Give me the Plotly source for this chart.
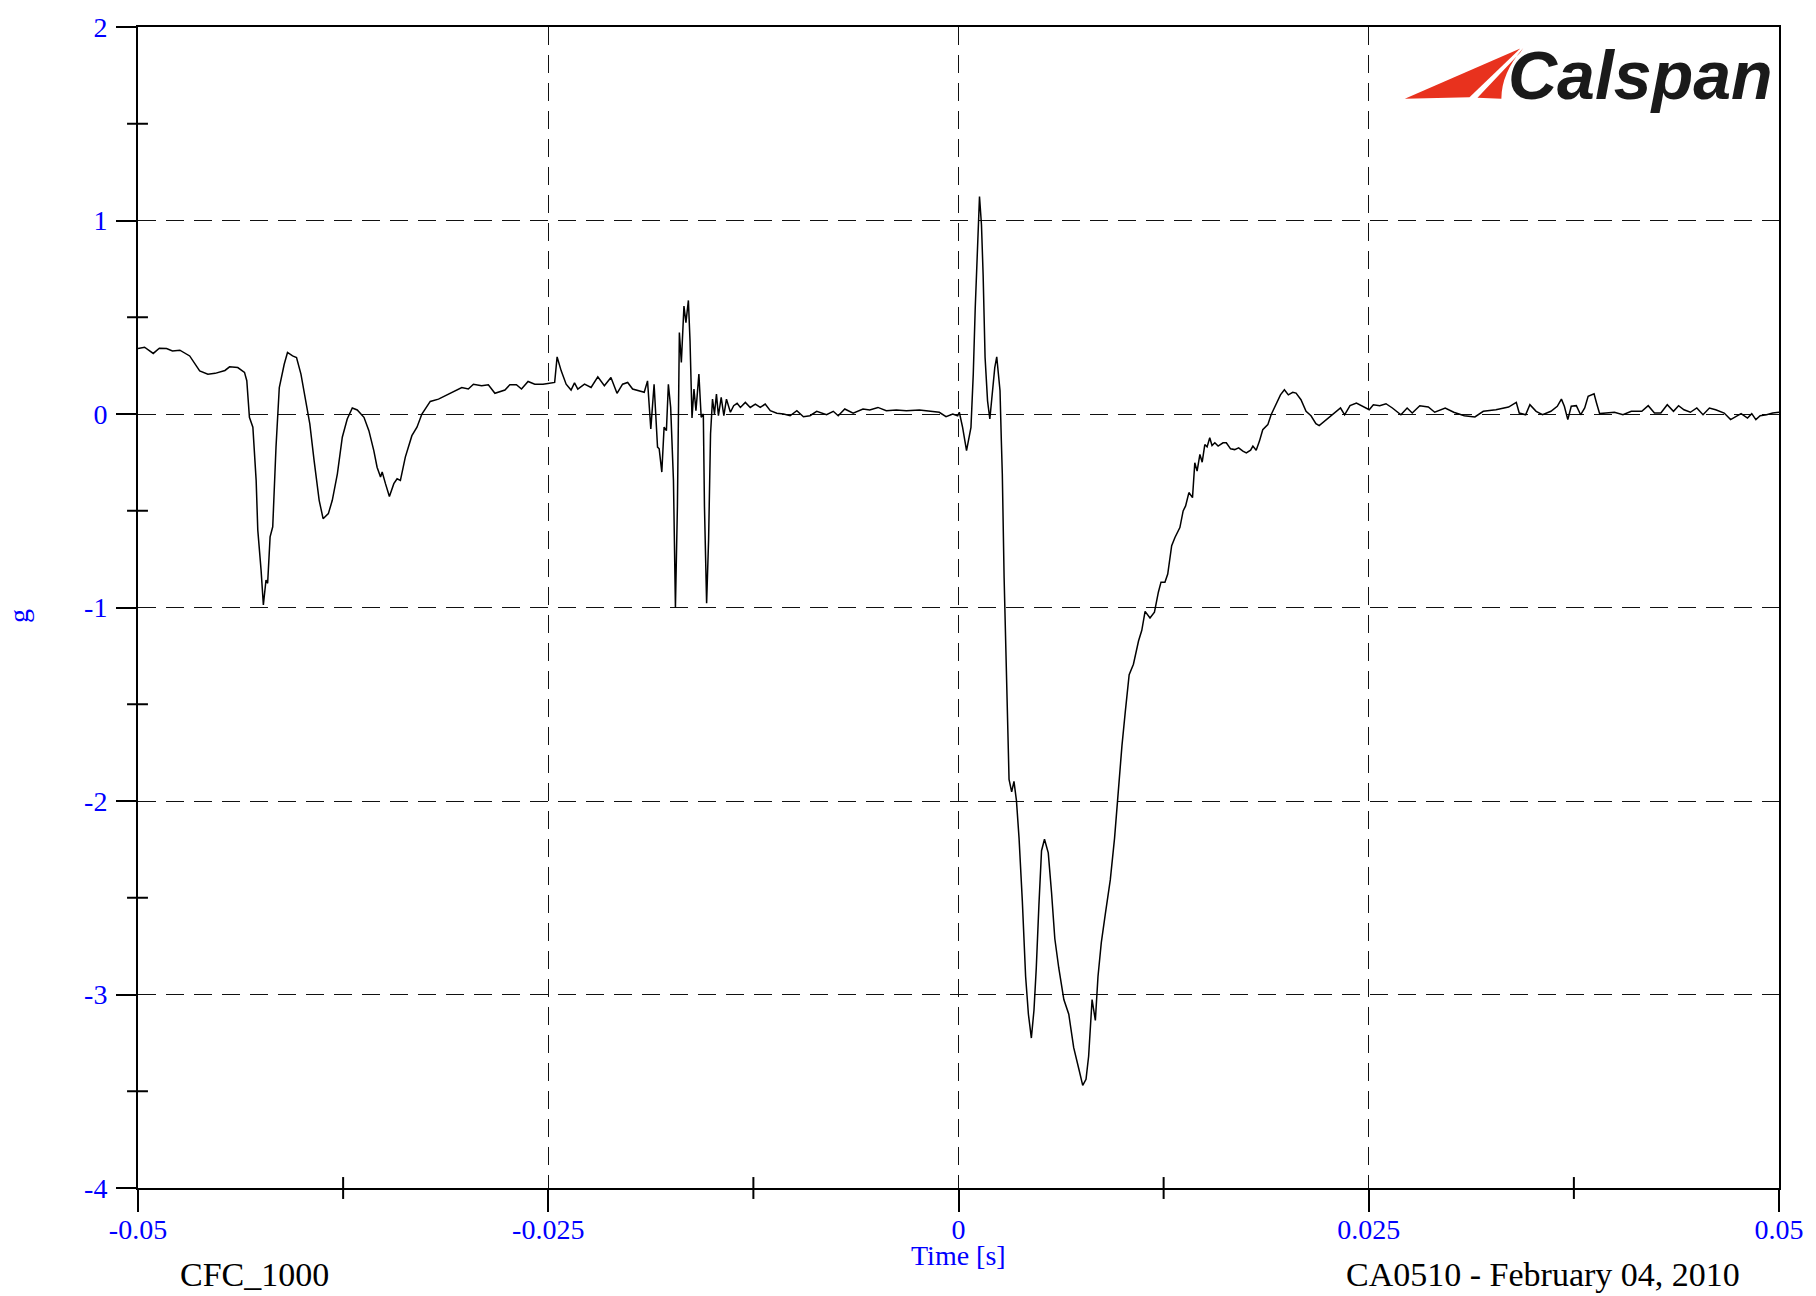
import plotly.graph_objects as go

# ---------------- data (time in ms, acceleration in g) ----------------
time_ms = [
    -50.00, -49.60, -49.07, -48.70, -48.26, -47.90, -47.45, -46.85, -46.24, -45.74,
    -45.30, -45.03, -44.70, -44.42, -43.92, -43.51, -43.37, -43.21, -43.00, -42.80,
    -42.70, -42.50, -42.36, -42.20, -42.10, -41.95, -41.79, -41.59, -41.39, -41.09,
    -40.89, -40.58, -40.34, -40.07, -39.77, -39.53, -39.27, -38.96, -38.72, -38.40,
    -38.16, -37.85, -37.55, -37.25, -36.94, -36.64, -36.23, -35.93, -35.63, -35.43,
    -35.22, -35.12, -34.92, -34.68, -34.41, -34.21, -34.01, -33.71, -33.31, -33.00,
    -32.70, -32.19, -31.69, -31.08, -30.88, -30.27, -29.87, -29.56, -29.06, -28.65,
    -28.25, -27.64, -27.34, -26.94, -26.63, -26.23, -25.82, -25.32, -25.02, -24.61,
    -24.46, -24.21, -23.91, -23.61, -23.40, -23.20, -22.79, -22.39, -21.98, -21.58,
    -21.18, -20.81, -20.47, -20.16, -19.86, -19.46, -19.15, -18.95, -18.75, -18.55,
    -18.34, -18.24, -18.08, -17.94, -17.80, -17.68, -17.54, -17.37, -17.25, -17.13,
    -17.01, -16.89, -16.73, -16.61, -16.46, -16.36, -16.24, -16.12, -16.00, -15.82,
    -15.68, -15.55, -15.48, -15.35, -15.23, -15.11, -14.99, -14.87, -14.75, -14.63,
    -14.46, -14.30, -14.14, -13.90, -13.70, -13.49, -13.29, -12.99, -12.69, -12.38,
    -12.08, -11.78, -11.47, -11.07, -10.66, -10.26, -9.85, -9.45, -9.05, -8.64,
    -8.04, -7.63, -7.33, -6.93, -6.42, -5.82, -5.41, -4.91, -4.40, -3.79,
    -3.18, -2.38, -1.77, -1.17, -0.76, -0.35, -0.05, 0.05, 0.25, 0.49,
    0.76, 0.90, 1.02, 1.16, 1.28, 1.40, 1.50, 1.62, 1.77, 1.91,
    2.07, 2.21, 2.33, 2.43, 2.53, 2.61, 2.67, 2.78, 2.92, 3.08,
    3.24, 3.38, 3.53, 3.69, 3.89, 4.09, 4.26, 4.44, 4.60, 4.74,
    4.90, 5.06, 5.24, 5.47, 5.67, 5.87, 6.11, 6.42, 6.72, 7.02,
    7.33, 7.57, 7.77, 7.93, 8.14, 8.34, 8.50, 8.70, 8.95, 9.25,
    9.51, 9.75, 9.96, 10.16, 10.40, 10.66, 10.97, 11.17, 11.37, 11.67,
    11.94, 12.18, 12.34, 12.58, 12.75, 12.99, 13.19, 13.49, 13.69, 13.84,
    14.04, 14.26, 14.40, 14.54, 14.71, 14.85, 15.01, 15.15, 15.31, 15.45,
    15.62, 15.82, 16.12, 16.32, 16.58, 16.83, 17.07, 17.33, 17.54, 17.80,
    17.94, 18.14, 18.34, 18.54, 18.85, 19.05, 19.36, 19.62, 19.86, 20.10,
    20.37, 20.57, 20.87, 21.18, 21.48, 21.78, 21.98, 22.29, 22.71, 23.09,
    23.28, 23.53, 23.86, 24.25, 24.64, 25.03, 25.28, 25.67, 26.05, 26.44,
    26.96, 27.34, 27.65, 28.11, 28.63, 29.02, 29.66, 30.18, 30.82, 31.47,
    31.98, 32.75, 33.52, 33.99, 34.17, 34.56, 34.82, 35.20, 35.59, 36.10,
    36.49, 36.74, 36.92, 37.13, 37.34, 37.65, 37.91, 38.16, 38.37, 38.73,
    38.88, 39.07, 39.45, 39.97, 40.49, 41.00, 41.64, 42.03, 42.41, 42.80,
    43.19, 43.57, 43.88, 44.21, 44.60, 44.99, 45.37, 45.76, 46.14, 46.66,
    47.05, 47.43, 47.69, 48.08, 48.34, 48.59, 48.85, 49.24, 49.62, 50.00,
]

accel_g = [
    0.338, 0.345, 0.313, 0.340, 0.338, 0.326, 0.330, 0.300, 0.223, 0.206,
    0.210, 0.215, 0.225, 0.244, 0.240, 0.215, 0.172, -0.017, -0.068, -0.343,
    -0.600, -0.807, -0.987, -0.858, -0.875, -0.635, -0.583, -0.171, 0.137, 0.257,
    0.318, 0.300, 0.292, 0.206, 0.068, -0.051, -0.240, -0.446, -0.541, -0.515,
    -0.446, -0.309, -0.120, -0.026, 0.031, 0.021, -0.017, -0.086, -0.189, -0.275,
    -0.326, -0.300, -0.360, -0.426, -0.360, -0.335, -0.343, -0.223, -0.112, -0.068,
    0.000, 0.065, 0.077, 0.103, 0.112, 0.137, 0.129, 0.154, 0.146, 0.151,
    0.107, 0.124, 0.151, 0.151, 0.129, 0.168, 0.154, 0.154, 0.158, 0.163,
    0.295, 0.223, 0.154, 0.124, 0.161, 0.129, 0.154, 0.137, 0.192, 0.146,
    0.189, 0.107, 0.154, 0.163, 0.129, 0.120, 0.112, 0.171, -0.077, 0.154,
    -0.171, -0.180, -0.300, -0.068, -0.086, 0.154, 0.034, -0.343, -1.000, -0.480,
    0.421, 0.266, 0.558, 0.472, 0.587, 0.377, -0.021, 0.129, 0.017, 0.206,
    -0.017, 0.000, -0.480, -0.978, -0.652, -0.103, 0.077, 0.000, 0.103, -0.009,
    0.086, -0.009, 0.077, 0.009, 0.043, 0.055, 0.034, 0.060, 0.034, 0.051,
    0.034, 0.051, 0.017, 0.004, 0.000, -0.009, 0.017, -0.014, -0.009, 0.014,
    -0.004, 0.014, -0.009, 0.026, 0.004, 0.026, 0.021, 0.034, 0.017, 0.021,
    0.017, 0.021, 0.014, 0.009, -0.014, 0.000, -0.009, 0.009, -0.069, -0.189,
    -0.069, 0.206, 0.549, 0.892, 1.124, 0.978, 0.721, 0.292, 0.068, -0.026,
    0.103, 0.240, 0.295, 0.223, 0.120, -0.137, -0.309, -0.848, -1.282, -1.888,
    -1.953, -1.899, -1.997, -2.192, -2.517, -2.907, -3.102, -3.225, -3.080, -2.863,
    -2.538, -2.257, -2.198, -2.268, -2.473, -2.712, -2.863, -3.026, -3.102, -3.275,
    -3.384, -3.470, -3.438, -3.319, -3.026, -3.134, -2.907, -2.733, -2.582, -2.408,
    -2.192, -1.910, -1.715, -1.542, -1.347, -1.293, -1.173, -1.118, -1.020, -1.054,
    -1.024, -0.921, -0.869, -0.869, -0.827, -0.681, -0.638, -0.587, -0.501, -0.475,
    -0.406, -0.432, -0.252, -0.295, -0.209, -0.249, -0.158, -0.170, -0.123, -0.163,
    -0.149, -0.166, -0.149, -0.149, -0.180, -0.184, -0.175, -0.192, -0.201, -0.187,
    -0.166, -0.187, -0.140, -0.081, -0.055, -0.004, 0.048, 0.099, 0.125, 0.099,
    0.112, 0.108, 0.074, 0.014, -0.009, -0.050, -0.060, -0.038, -0.012, 0.014,
    0.031, -0.004, 0.043, 0.057, 0.040, 0.022, 0.048, 0.043, 0.053, 0.031,
    -0.004, 0.031, 0.005, 0.043, 0.036, 0.009, 0.031, 0.009, -0.009, -0.015,
    0.014, 0.022, 0.036, 0.060, 0.005, -0.004, 0.048, 0.014, -0.004, 0.014,
    0.040, 0.077, 0.040, -0.029, 0.040, 0.043, -0.004, 0.031, 0.091, 0.104,
    0.057, 0.002, 0.005, 0.009, -0.004, 0.014, 0.014, 0.043, 0.005, 0.005,
    0.048, 0.014, 0.043, 0.022, 0.009, 0.031, -0.004, 0.031, 0.022, 0.005,
    -0.029, -0.012, 0.002, -0.021, 0.002, -0.029, -0.009, -0.004, 0.005, 0.009,
]

x_major_ticks = [-0.05, -0.025, 0, 0.025, 0.05]
x_tick_labels = ["-0.05", "-0.025", "0", "0.025", "0.05"]
x_minor_ticks = [-0.0375, -0.0125, 0.0125, 0.0375]
y_major_ticks = [-4, -3, -2, -1, 0, 1, 2]
y_tick_labels = ["-4", "-3", "-2", "-1", "0", "1", "2"]
y_minor_ticks = [-3.5, -2.5, -1.5, -0.5, 0.5, 1.5]

x_title = "Time [s]"
y_title = "g"
footer_left = "CFC_1000"
footer_right = "CA0510 - February 04, 2010"
logo_text = "Calspan"

time_s = [t / 1000.0 for t in time_ms]

# ---------------- layout geometry (pixels) ----------------
W_FIG, H_FIG = 1816, 1296
L, R, T, B = 138, 1787, 22, 1188
PW, PH = R - L, B - T


def px(xp):
    return (xp - L) / PW


def py(yp):
    return (B - yp) / PH


SERIF = "Liberation Serif, Times New Roman, serif"
BLUE = "#0000ff"
RED = "#e8321e"

fig = go.Figure()
fig.add_trace(go.Scatter(
    x=time_s, y=accel_g, mode="lines",
    line=dict(color="black", width=1.5),
    hoverinfo="skip", showlegend=False,
))

shapes = []
# minor ticks crossing the axes
for v in y_minor_ticks:
    shapes.append(dict(type="line", xref="paper", yref="y",
                       x0=-11 / PW, x1=10 / PW, y0=v, y1=v,
                       line=dict(color="black", width=2)))
for v in x_minor_ticks:
    shapes.append(dict(type="line", xref="x", yref="paper",
                       x0=v, x1=v, y0=-11 / PH, y1=11 / PH,
                       line=dict(color="black", width=2)))


# Calspan logo swoosh (decoration)
def path(points, close=True):
    s = "M " + " L ".join(f"{px(a):.5f},{py(b):.5f}" for a, b in points)
    return s + (" Z" if close else "")


shapes.append(dict(type="path", xref="paper", yref="paper",
                   path=path([(1411, 94), (1527, 43.5), (1476, 92.5)]),
                   fillcolor=RED, line=dict(width=0)))
A = (1530, 43); C = (1508, 68); Bp = (1508, 94)
shapes.append(dict(type="path", xref="paper", yref="paper",
                   path=(f"M {px(1484):.5f},{py(93):.5f} L {px(1527):.5f},{py(47.5):.5f} "
                         f"L {px(A[0]):.5f},{py(A[1]):.5f} "
                         f"Q {px(C[0]):.5f},{py(C[1]):.5f} {px(Bp[0]):.5f},{py(Bp[1]):.5f} Z"),
                   fillcolor=RED, line=dict(width=0)))

annotations = [
    dict(text=y_title, xref="paper", yref="paper", x=px(18), y=py(614),
         textangle=-90, showarrow=False, xanchor="center", yanchor="middle",
         font=dict(family=SERIF, size=28, color=BLUE)),
    dict(text=x_title, xref="paper", yref="paper", x=px(963), y=py(1256),
         showarrow=False, xanchor="center", yanchor="middle",
         font=dict(family=SERIF, size=28, color=BLUE)),
    dict(text=footer_left, xref="paper", yref="paper", x=px(255), y=py(1275),
         showarrow=False, xanchor="center", yanchor="middle",
         font=dict(family=SERIF, size=34, color="black")),
    dict(text=footer_right, xref="paper", yref="paper", x=px(1550), y=py(1275),
         showarrow=False, xanchor="center", yanchor="middle",
         font=dict(family=SERIF, size=34, color="black")),
    dict(text=f"<b><i>{logo_text}</i></b>", xref="paper", yref="paper",
         x=px(1513), y=py(70), showarrow=False, xanchor="left", yanchor="middle",
         font=dict(family="Liberation Sans, Arial, sans-serif", size=68, color="#1a1a1a")),
]

axis_common = dict(
    showline=True, linecolor="black", linewidth=2, mirror=True,
    showgrid=True, gridcolor="#111111", gridwidth=1.4, griddash="18px,10px",
    zeroline=False, ticks="outside", tickcolor="black", tickwidth=2,
    ticklabeloverflow="allow",
    tickfont=dict(family=SERIF, size=28, color=BLUE),
)

fig.update_layout(
    width=W_FIG, height=H_FIG, autosize=False,
    margin=dict(l=L, r=W_FIG - R, t=T, b=H_FIG - B, pad=0),
    paper_bgcolor="white", plot_bgcolor="white",
    showlegend=False,
    xaxis=dict(range=[-0.05, 0.05], tickmode="array", tickvals=x_major_ticks,
               ticktext=x_tick_labels, ticklen=22, ticklabelstandoff=-7, **axis_common),
    yaxis=dict(range=[-4, 2], tickmode="array", tickvals=y_major_ticks,
               ticktext=y_tick_labels, ticklen=20, ticklabelstandoff=3, **axis_common),
    shapes=shapes,
    annotations=annotations,
)

fig.write_html(
    "out.html",
    config={"displayModeBar": False, "responsive": False},
    post_script="document.body.style.margin='0';document.body.style.overflow='hidden';",
)
